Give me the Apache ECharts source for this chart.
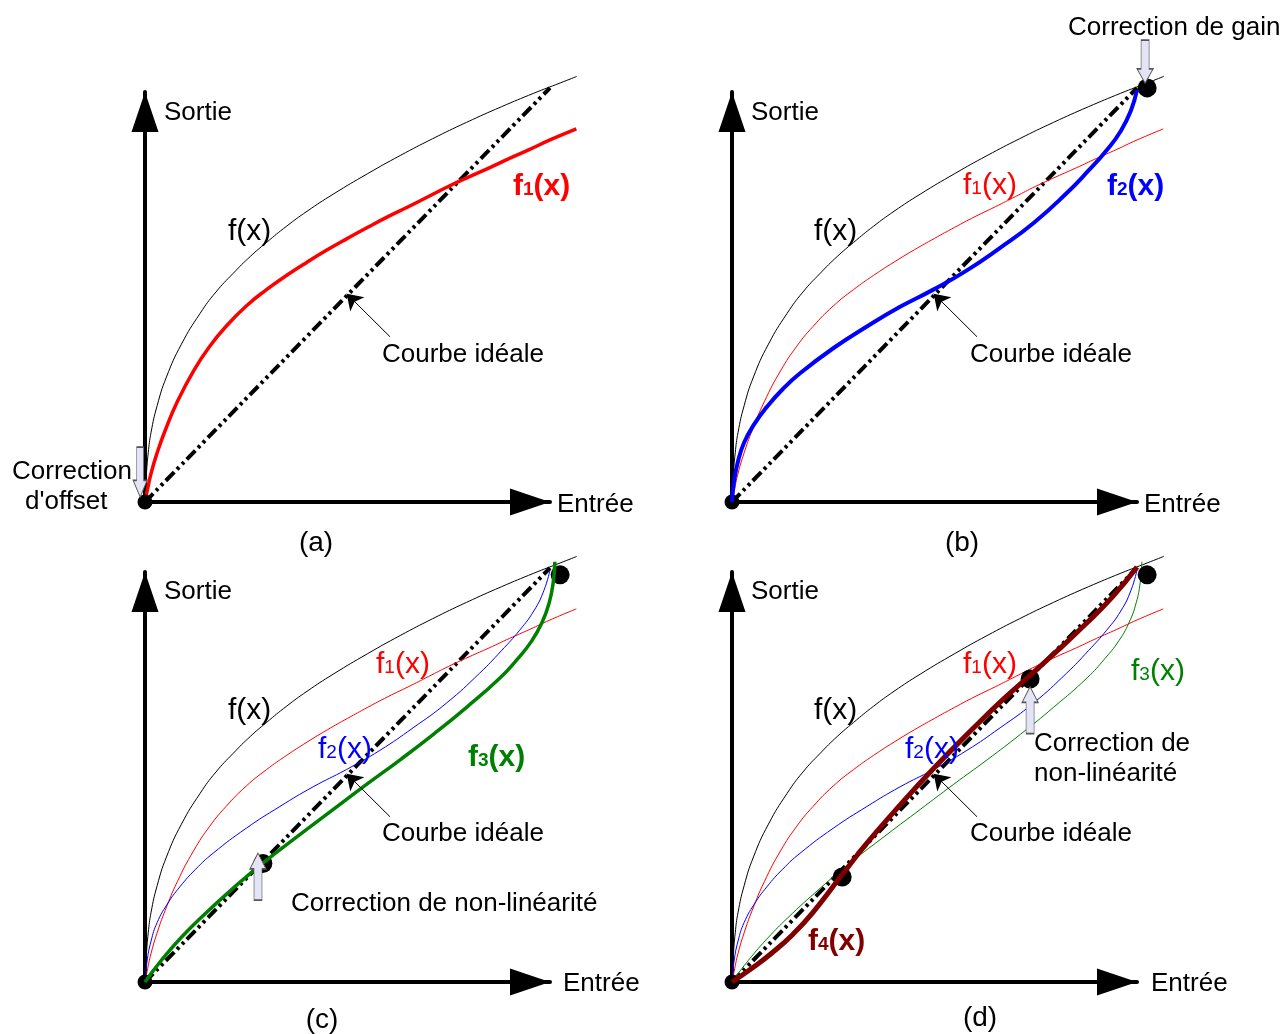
<!DOCTYPE html>
<html><head><meta charset="utf-8">
<script src="https://cdn.jsdelivr.net/npm/echarts@6/dist/echarts.min.js"></script>
<style>html,body{margin:0;padding:0;background:#fff}#c{width:1287px;height:1034px}</style>
</head><body><div id="c"></div>
<script>
// ---- data (units: Entrée 0..100 along x axis, Sortie 0..100 along y axis) ----
const fCurve = [[0,0],[0.3,6],[0.8,12],[1.5,17],[3,23.5],[5.3,30.5],[9,38.5],[13.6,46],[17.5,51.2],[21.8,55.8],[26,59.9],[30,63.3],[35,67.3],[40,70.9],[46.5,75.1],[55,80.1],[63,84.5],[71,88.6],[79.4,92.6],[88,96.4],[96,99.7],[102.5,102.2],[106.6,103.8]];
const f1Curve = [[0,0],[0.5,2.5],[1.5,7],[3,12],[5,17.5],[8,24.5],[12,32],[16,38],[20,42.8],[25,47.8],[30,51.8],[35,55.3],[40,58.5],[45,61.5],[50,64.3],[55,67],[60,69.6],[65,72],[70,74.5],[75,77],[80,79.3],[85,81.5],[90,83.8],[95,86],[100,88.3],[106.5,91]];
const f2Curve = [[0,0],[0.5,5],[1.5,10],[3,14.5],[5.5,19],[8.6,23.2],[12.5,27.5],[16.8,31.4],[25,37.5],[33.3,42.8],[41.5,47.6],[49.7,51.8],[58,56.5],[66.2,62],[74.4,68],[82.6,75.3],[88,80.8],[92.5,85.8],[96,90.5],[98.5,95.5],[100,100.5]];
const f3Curve = [[0,0],[2,2.7],[5.4,6.9],[9,10.9],[13.6,15.5],[21.8,22.9],[29.1,29],[38.3,36],[46.5,42.1],[54.7,48.2],[63,54.2],[71.2,60.4],[79.4,67],[87.7,74.2],[92,78.8],[95.5,83.2],[98,87.6],[99.8,92.5],[100.8,97.5],[101.2,102.5]];
const f4Curve = [[0,0],[5,3.4],[10,7.2],[15,11.6],[20,17],[27.2,26.2],[33,33.5],[40,41.5],[50,52.3],[60,62.3],[67,69],[73.6,74.8],[80,80.5],[87,87],[94,94],[100,101.2]];
const idealLine = [[0,0],[100,101]];
const originPoint = [[0,0]];
const gainPoint = [[102.5,101]];
const pointsC = [[29.1,28.9],[102.5,99.3]];
const pointsD = [[27.2,25.6],[73.6,73.9],[102.5,99.3]];
const pointerLine = [[60.5,40.3],[49.8,50.8]];
const offsetArrowAt = [[-1.2,7.3]];
const gainArrowAt = [[102,107.4]];
const nonlinArrowC = [[27.9,25.7]];
const nonlinArrowD = [[73.6,66.3]];

const FONT = "'Liberation Sans', Arial, sans-serif";
const RED = '#ff0000', BLUE = '#0000ff', GREEN = '#008000', MAROON = '#800000';

// visible axis frames (0..100) and matching data frames (0..110, same scale)
const axisGrids = [
  {left:145, top:92, width:405, height:410},
  {left:732, top:92, width:405, height:410},
  {left:145, top:572, width:405, height:410},
  {left:732, top:572, width:405, height:410}
];
const dataGrids = axisGrids.map(g => ({left:g.left, top:g.top + g.height - g.height*1.1, width:g.width*1.1, height:g.height*1.1}));

const axisLine = {show:true, onZero:false, symbol:['none','triangle'], symbolSize:[27,40], symbolOffset:[0,-20], lineStyle:{color:'#000', width:4}};
const mkAxis = (i, max, visible) => ({type:'value', gridIndex:i, min:0, max, show:visible,
  axisLine: visible ? axisLine : {show:false}, axisTick:{show:false}, axisLabel:{show:false}, splitLine:{show:false}});

const D = i => 4 + i; // data axis index for panel i
function line(data, p, color, width, z, type) {
  return {type:'line', xAxisIndex:D(p), yAxisIndex:D(p), data, smooth:0.5, symbol:'none', showSymbol:false, clip:false,
    lineStyle:{color, width, type: type || 'solid', cap:'butt'}, z, silent:true};
}
function dots(data, p, size, z) {
  return {type:'scatter', xAxisIndex:D(p), yAxisIndex:D(p), data, symbol:'circle', symbolSize:size, clip:false,
    itemStyle:{color:'#000', opacity:1}, z, silent:true};
}
const ARROW = 'path://M8,0L16,16L12,16L12,48L4,48L4,16L0,16Z';
function blockArrow(data, p, size, rot) {
  return {type:'scatter', xAxisIndex:D(p), yAxisIndex:D(p), data, symbol:ARROW, symbolSize:size, symbolRotate:rot, clip:false,
    itemStyle:{color:'#e4e4f6', borderColor:'#555', borderWidth:1, opacity:1}, z:20, silent:true};
}
function pointer(p) {
  return {type:'lines', coordinateSystem:'cartesian2d', xAxisIndex:D(p), yAxisIndex:D(p), data:[{coords:pointerLine}],
    symbol:['none','arrow'], symbolSize:15, lineStyle:{color:'#000', width:1, opacity:1}, z:15, silent:true};
}
const DASH = [12,4,3,4,3,4];

const series = [];
// (a)
series.push(line(idealLine,0,'#000',4,3,DASH), line(fCurve,0,'#000',1,4), line(f1Curve,0,RED,3.5,6),
  dots(originPoint,0,15,7), blockArrow(offsetArrowAt,0,[14,50],180), pointer(0));
// (b)
series.push(line(idealLine,1,'#000',4,3,DASH), line(fCurve,1,'#000',1,4), line(f1Curve,1,RED,1,4),
  dots(originPoint,1,15,5), dots(gainPoint,1,19,5), line(f2Curve,1,BLUE,4,6),
  blockArrow(gainArrowAt,1,[16,43],180), pointer(1));
// (c)
series.push(line(idealLine,2,'#000',4,3,DASH), line(fCurve,2,'#000',1,4), line(f1Curve,2,RED,1,4), line(f2Curve,2,BLUE,1,4),
  dots(originPoint,2,15,5), dots(pointsC,2,19,5), line(f3Curve,2,GREEN,3.5,6),
  blockArrow(nonlinArrowC,2,[16,47],0), pointer(2));
// (d)
series.push(line(idealLine,3,'#000',4,3,DASH), line(fCurve,3,'#000',1,4), line(f1Curve,3,RED,1,4), line(f2Curve,3,BLUE,1,4),
  line(f3Curve,3,GREEN,1,4), dots(originPoint,3,15,5), dots(pointsD,3,19,5), line(f4Curve,3,MAROON,5,6),
  blockArrow(nonlinArrowD,3,[16,47],0), pointer(3));

function T(x, y, text, o) {
  o = o || {};
  const size = o.size || 26, weight = o.weight || 'normal', fill = o.fill || '#000';
  return {type:'text', x, y, z:100, silent:true,
    style:{text, fill, fontSize:size, fontWeight:weight, fontFamily:FONT, align:o.align || 'left', verticalAlign:'middle',
      rich:{s:{fontSize:Math.round(size*0.64), fontWeight:weight, fontFamily:FONT, fill, verticalAlign:'bottom', padding:[0,0,3,0]},
            n:{fontSize:size, fontWeight:weight, fontFamily:FONT, fill}}}};
}
function F(x, y, idx, color, bold) {
  return T(x, y, '{n|f}{s|' + idx + '}{n|(x)}', {size:30, fill:color, weight: bold ? 'bold' : 'normal'});
}
const texts = [
  // (a)
  T(164,113,'Sortie'), T(557,505,'Entrée'), T(228,232,'f(x)',{size:30}), F(513,187,1,RED,true),
  T(382,355,'Courbe idéale'), T(12,472,'Correction'), T(25,502,"d'offset"), T(316,543,'(a)',{size:28,align:'center'}),
  // (b)
  T(751,113,'Sortie'), T(1144,505,'Entrée'), T(814,232,'f(x)',{size:30}), F(963,186,1,RED,false), F(1107,187,2,BLUE,true),
  T(970,355,'Courbe idéale'), T(1068,28,'Correction de gain'), T(962,543,'(b)',{size:28,align:'center'}),
  // (c)
  T(164,592,'Sortie'), T(563,984,'Entrée'), T(228,711,'f(x)',{size:30}), F(376,665,1,RED,false), F(318,750,2,BLUE,false),
  F(468,758,3,GREEN,true), T(382,834,'Courbe idéale'), T(291,904,'Correction de non-linéarité'), T(322,1020,'(c)',{size:28,align:'center'}),
  // (d)
  T(751,592,'Sortie'), T(1151,984,'Entrée'), T(814,711,'f(x)',{size:30}), F(963,665,1,RED,false), F(905,750,2,BLUE,false),
  F(1131,672,3,GREEN,false), F(808,942,4,MAROON,true), T(970,834,'Courbe idéale'), T(1034,744,'Correction de'), T(1034,774,'non-linéarité'),
  T(980,1018,'(d)',{size:28,align:'center'})
];

const chart = echarts.init(document.getElementById('c'), null, {renderer:'canvas'});
chart.setOption({
  animation:false,
  backgroundColor:'#fff',
  grid: axisGrids.concat(dataGrids),
  xAxis: axisGrids.map((g,i)=>mkAxis(i,100,true)).concat(dataGrids.map((g,i)=>mkAxis(4+i,110,false))),
  yAxis: axisGrids.map((g,i)=>mkAxis(i,100,true)).concat(dataGrids.map((g,i)=>mkAxis(4+i,110,false))),
  series,
  graphic: texts
});
</script></body></html>
